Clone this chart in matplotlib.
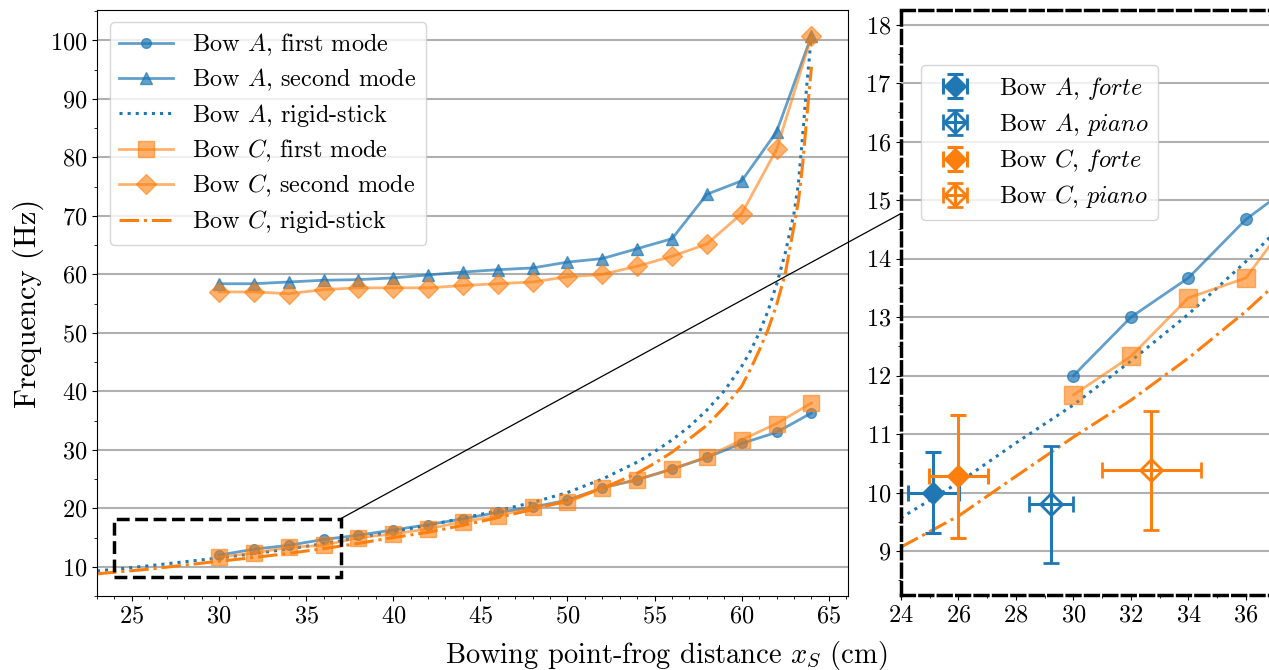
import matplotlib
matplotlib.use("Agg")
import matplotlib.pyplot as plt
from matplotlib.ticker import MultipleLocator
from matplotlib.patches import Rectangle, ConnectionPatch

plt.rcParams['font.family'] = 'serif'
plt.rcParams['font.serif'] = ['cmr10', 'DejaVu Serif']
plt.rcParams['mathtext.fontset'] = 'cm'
plt.rcParams['axes.formatter.use_mathtext'] = True
plt.rcParams['axes.unicode_minus'] = False

# ---------------- data ----------------
x_modes = [30, 32, 34, 36, 38, 40, 42, 44, 46, 48, 50, 52, 54, 56, 58, 60, 62, 64]
bowA_first = [12.0, 13.0, 13.67, 14.67, 15.4, 16.3, 17.2, 18.2, 19.3, 20.2, 21.4, 23.5, 24.9, 26.7, 28.7, 31.1, 33.0, 36.3]
bowA_second = [58.4, 58.4, 58.7, 59.0, 59.1, 59.4, 59.9, 60.4, 60.8, 61.1, 62.1, 62.7, 64.4, 66.1, 73.7, 76.0, 84.4, 100.8]
bowC_first = [11.67, 12.33, 13.33, 13.67, 15.0, 15.6, 16.5, 17.7, 18.7, 20.2, 21.0, 23.5, 24.9, 26.7, 28.8, 31.7, 34.5, 38.0]
bowC_second = [57.0, 57.0, 56.7, 57.4, 57.7, 57.7, 57.7, 58.1, 58.4, 58.7, 59.6, 60.0, 61.4, 63.1, 65.2, 70.4, 81.4, 100.7]

x_rigid = [23, 24, 26, 28, 30, 32, 34, 36, 38, 40, 42, 44, 46, 48, 50, 52, 54, 55, 56, 57,
           58, 59, 60, 60.5, 61, 61.5, 62, 62.5, 63, 63.25, 63.5, 63.75, 64]
bowA_rigid = [9.3, 9.57, 10.17, 10.85, 11.5, 12.25, 13.05, 13.95, 14.95, 16.0, 17.1, 18.3, 19.6, 21.0,
              22.7, 25.0, 27.9, 29.7, 31.7, 34.0, 36.8, 40.1, 44.3, 46.9, 50.0, 53.7, 58.3, 63.7,
              70.5, 75.5, 84.0, 93.0, 101.0]
bowC_rigid = [8.8, 9.07, 9.6, 10.28, 10.95, 11.58, 12.3, 13.1, 14.0, 15.0, 15.9, 17.1, 18.4, 19.8,
              21.3, 23.4, 26.0, 27.7, 29.6, 31.9, 34.2, 37.3, 40.9, 43.8, 47.0, 50.5, 54.8, 60.2,
              68.3, 72.5, 79.0, 87.5, 95.5]

# inset measurements: x, y, xerr, yerr
A_forte = (25.13, 10.0, 0.88, 0.69)
A_piano = (29.22, 9.80, 0.78, 1.0)
C_forte = (26.0, 10.28, 1.03, 1.05)
C_piano = (32.71, 10.38, 1.73, 1.02)

blue = '#1f77b4'
orange = '#ff7f0e'

fig = plt.figure(figsize=(12.69, 6.70), dpi=100)
ax = fig.add_axes([0.0764, 0.1104, 0.5919, 0.8746])


def draw_models(a, ms_scale=1.0):
    a.plot(x_modes, bowA_first, '-o', color=blue, alpha=0.7, lw=2, ms=7 * ms_scale,
           label=r'Bow $A$, first mode')
    a.plot(x_modes, bowA_second, '-^', color=blue, alpha=0.7, lw=2, ms=8 * ms_scale,
           label=r'Bow $A$, second mode')
    a.plot(x_rigid, bowA_rigid, ':', color=blue, lw=2.2, label=r'Bow $A$, rigid-stick')
    a.plot(x_modes, bowC_first, '-s', color=orange, alpha=0.6, lw=2, ms=11 * ms_scale,
           label=r'Bow $C$, first mode')
    a.plot(x_modes, bowC_second, '-D', color=orange, alpha=0.6, lw=2, ms=10 * ms_scale,
           label=r'Bow $C$, second mode')
    a.plot(x_rigid, bowC_rigid, '-.', color=orange, lw=2.2, label=r'Bow $C$, rigid-stick')


draw_models(ax)
ax.set_xlim(23.0, 66.1)
ax.set_ylim(5.0, 105.2)
ax.xaxis.set_major_locator(MultipleLocator(5))
ax.xaxis.set_minor_locator(MultipleLocator(1))
ax.yaxis.set_major_locator(MultipleLocator(10))
ax.yaxis.set_minor_locator(MultipleLocator(5))
ax.grid(axis='y', color='#b0b0b0', lw=1.5)
ax.set_axisbelow(True)
ax.tick_params(labelsize=17.5)
ax.set_ylabel('Frequency (Hz)', fontsize=22)
ax.legend(loc='upper left', bbox_to_anchor=(0.017, 0.980), borderaxespad=0, fontsize=17.5,
          framealpha=0.8, handlelength=2.2, labelspacing=0.36)

# inset
x0, x1, y0, y1 = 24.0, 37.0, 8.25, 18.25
rect = Rectangle((x0, y0), x1 - x0, y1 - y0, fill=False, ls='--', lw=2.5, ec='black', zorder=5)
ax.add_patch(rect)

axin = fig.add_axes([0.7100, 0.1119, 0.2944, 0.8731])
axin.set_zorder(3)
axin.set_facecolor('white')
draw_models(axin, ms_scale=1.2)
axin.set_xlim(x0, x1)
axin.set_ylim(y0, y1)
axin.xaxis.set_major_locator(MultipleLocator(2))
axin.xaxis.set_minor_locator(MultipleLocator(1))
axin.yaxis.set_major_locator(MultipleLocator(1))
axin.yaxis.set_minor_locator(MultipleLocator(0.5))
axin.grid(axis='y', color='#b0b0b0', lw=1.5)
axin.set_axisbelow(True)
axin.tick_params(labelsize=17.5)
for s in axin.spines.values():
    s.set_linestyle('--')
    s.set_linewidth(2.5)

eb_kw = dict(lw=2.2, capsize=6, capthick=2.2, ms=11)
h1 = axin.errorbar(A_forte[0], A_forte[1], xerr=A_forte[2], yerr=A_forte[3], fmt='D', color=blue,
                   label=r'Bow $A$, $\mathit{forte}$', **eb_kw)
h2 = axin.errorbar(A_piano[0], A_piano[1], xerr=A_piano[2], yerr=A_piano[3], fmt='D', color=blue,
                   mfc='none', mew=2, label=r'Bow $A$, $\mathit{piano}$', **eb_kw)
h3 = axin.errorbar(C_forte[0], C_forte[1], xerr=C_forte[2], yerr=C_forte[3], fmt='D', color=orange,
                   label=r'Bow $C$, $\mathit{forte}$', **eb_kw)
h4 = axin.errorbar(C_piano[0], C_piano[1], xerr=C_piano[2], yerr=C_piano[3], fmt='D', color=orange,
                   mfc='none', mew=2, label=r'Bow $C$, $\mathit{piano}$', **eb_kw)
axin.legend(handles=[h1, h2, h3, h4], loc='upper left', bbox_to_anchor=(0.054, 0.906),
            borderaxespad=0, fontsize=17.5, framealpha=0.8, handletextpad=0.8, labelspacing=0.38)

con = ConnectionPatch(xyA=(x1, y1), coordsA=ax.transData, xyB=(1, 1), coordsB=axin.transAxes,
                      color='black', lw=0.9)
con.set_zorder(1)
fig.add_artist(con)

fig.text(0.525, 0.022, r'Bowing point-frog distance $x_S$ (cm)', ha='center', va='center', fontsize=20.5)

fig.savefig('out.png', dpi=100)
